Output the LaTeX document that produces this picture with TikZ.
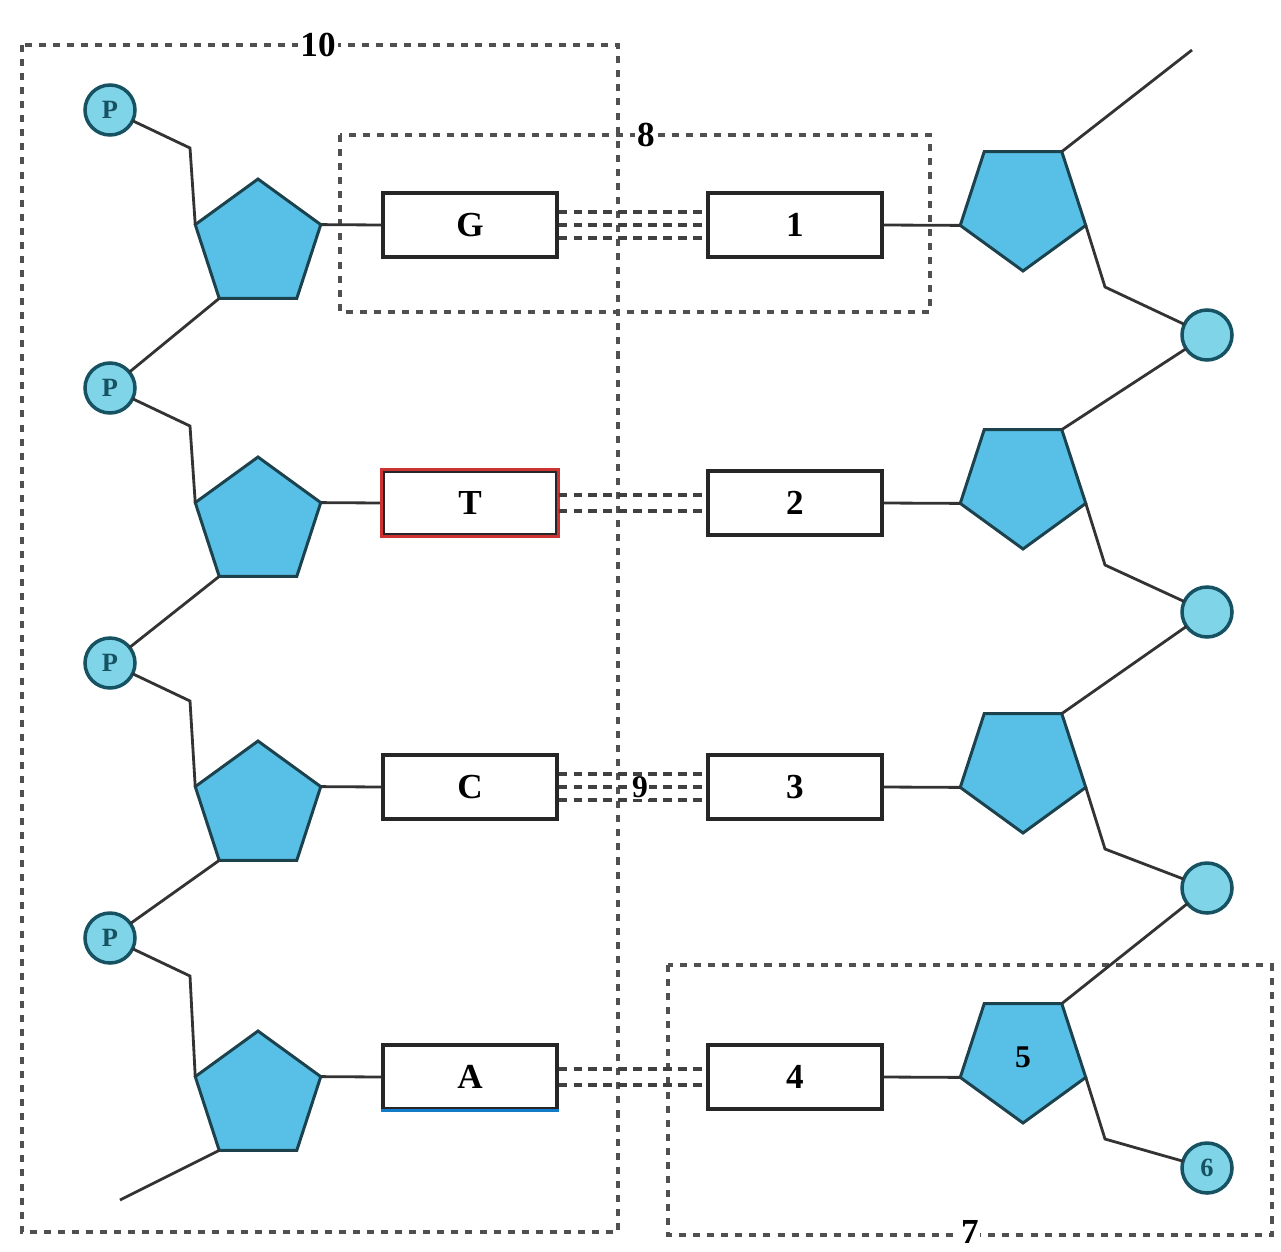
\documentclass[tikz,border=0pt]{standalone}
\usepackage{fontspec}
\setmainfont{Liberation Serif}
\usepackage{tikz}
\usetikzlibrary{
  shapes.geometric,         % 五边形（脱氧核糖）
  calc                      % 坐标计算
}
\definecolor{sugarblue}{RGB}{88,192,230}
\definecolor{sugaredge}{RGB}{28,66,78}
\definecolor{phosfill}{RGB}{128,212,232}
\definecolor{phosedge}{RGB}{22,82,98}
\definecolor{regiongray}{RGB}{80,80,80}
\tikzset{
  sugar/.style={
    regular polygon,
    regular polygon sides=5,
    minimum size=2.64cm,
    inner sep=0pt,
    outer sep=0pt,
    fill=sugarblue,
    draw=sugaredge,
    line width=1.7pt,
    font=\fontsize{18}{20}\selectfont\bfseries
  },
  phosphate/.style={
    circle,
    minimum size=1cm,
    inner sep=0pt,
    outer sep=0pt,
    fill=phosfill,
    draw=phosedge,
    line width=2pt,
    text=phosedge,
    font=\fontsize{15}{17}\selectfont\bfseries
  },
  base/.style={
    rectangle,
    minimum width=3.48cm,
    minimum height=1.28cm,
    inner sep=0pt,
    fill=white,
    draw=black!85,
    line width=1.8pt,
    font=\fontsize{20}{22}\selectfont\bfseries
  },
  backbone/.style={
    line width=1.6pt,
    color=black!80
  },
  hbond/.style={
    line width=2pt,
    color=black!75,
    dash pattern=on 5pt off 3.5pt
  },
  region/.style={
    line width=1.9pt,
    color=regiongray,
    dash pattern=on 4pt off 4pt
  },
  region label/.style={
    fill=white,
    inner sep=1.5pt,
    font=\fontsize{20}{22}\selectfont\bfseries
  }
}

\begin{document}
\begin{tikzpicture}[x=0.02cm, y=-0.02cm]

  \useasboundingbox (0,0) rectangle (1281,1251);

  % 1. 虚线框 10、8、7
  \draw[region] (22,45) rectangle (618,1232);
  \draw[region] (340,135) rectangle (930,312);
  \draw[region] (668,965) rectangle (1272,1235);

  % 2. 左链：磷酸、脱氧核糖、碱基
  \foreach \i/\r/\p/\b in {1/225/110/G, 2/503/388/T, 3/787/663/C, 4/1077/938/A} {
    \node[phosphate] (lp\i) at (110,\p) {P};
    \node[sugar] (ls\i) at (258,\r+20) {};
    \node[base] (lb\i) at (470,\r) {\b};
    \coordinate (lk\i) at (190,\p+38);
    \draw[backbone] (lp\i) -- (lk\i) -- (ls\i.corner 2);
    \draw[backbone] (ls\i.corner 5) -- (lb\i.west);
  }
  \foreach \i/\j in {1/2, 2/3, 3/4}
    \draw[backbone] (ls\i.corner 3) -- (lp\j);
  \coordinate (lend) at (120,1200);
  \draw[backbone] (ls4.corner 3) -- (lend);

  % T 框为红色，A 框下沿为蓝色
  \draw[red!75!black!80, line width=1.8pt] (lb2.south west) rectangle (lb2.north east);
  \draw[cyan!60!blue, line width=1.8pt] (lb4.south west) -- (lb4.south east);

  % 3. 右链：碱基、脱氧核糖、磷酸
  \foreach \i/\r/\p/\b/\s/\q in {1/225/335/1//, 2/503/612/2//, 3/787/888/3//, 4/1077/1168/4/5/6} {
    \node[base] (rb\i) at (795,\r) {\b};
    \node[sugar, regular polygon rotate=180] (rs\i) at (1023,\r-20) {\s};
    \node[phosphate] (rp\i) at (1207,\p) {\q};
    \coordinate (rk\i) at (1105,\r+62);
    \draw[backbone] (rb\i.east) -- (rs\i.corner 5);
    \draw[backbone] (rs\i.corner 2) -- (rk\i) -- (rp\i);
  }
  \foreach \i/\j in {1/2, 2/3, 3/4}
    \draw[backbone] (rp\i) -- (rs\j.corner 3);
  \coordinate (rend) at (1192,50);
  \draw[backbone] (rs1.corner 3) -- (rend);

  % 4. 氢键：G-1、C-3 三条，T-2、A-4 两条
  \foreach \i in {1,3}
    \foreach \d in {-7.5pt,0pt,7.5pt}
      \draw[hbond] ([yshift=\d]lb\i.east) -- ([yshift=\d]rb\i.west);
  \foreach \i in {2,4}
    \foreach \d in {-4.5pt,4.5pt}
      \draw[hbond] ([yshift=\d]lb\i.east) -- ([yshift=\d]rb\i.west);

  % 5. 标号
  \node[region label] (n10) at (318,45) {10};
  \node[region label] (n8) at (646,135) {8};
  \node[region label, inner sep=0.5pt] (n7) at (970,1232) {7};
  \node[fill=white, inner sep=0.5pt, font=\fontsize{18}{20}\selectfont\bfseries] (n9) at (640,787) {9};

\end{tikzpicture}
\end{document}
